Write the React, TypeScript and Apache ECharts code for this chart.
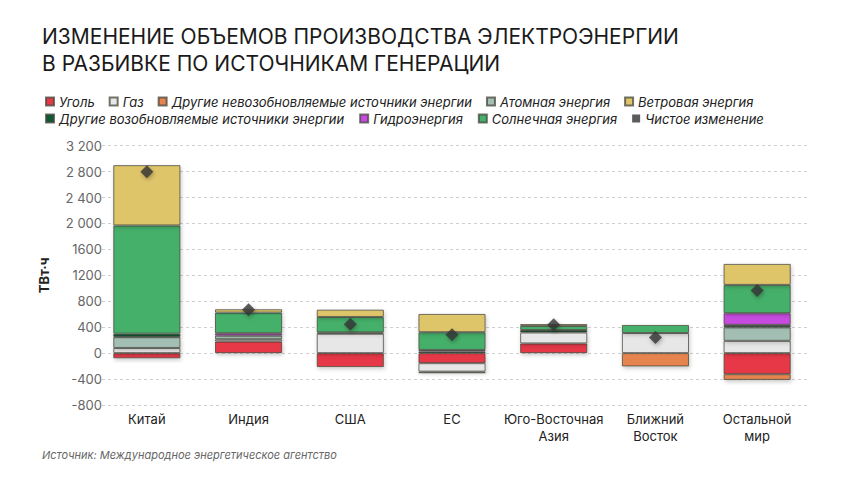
import React, { useEffect, useRef } from "react";
import * as echarts from "echarts";

// Regions along the category axis
const categories = [
  "Китай",
  "Индия",
  "США",
  "ЕС",
  "Юго-Восточная\nАзия",
  "Ближний\nВосток",
  "Остальной\nмир",
];

// Change in generation by source, TWh (null = no change)
const coal = [-80, 180, -215, -155, 150, null, -325];
const gas = [80, 35, 300, -130, 170, 310, 190];
const otherNonRenewable = [null, null, null, null, null, -205, -88];
const nuclear = [170, 55, null, -25, null, null, 210];
const otherRenewable = [50, null, 20, 25, 36, null, 36];
const hydro = [null, 37, null, 25, null, null, 180];
const solar = [1670, 318, 238, 273, 62, 125, 437];
const wind = [930, 52, 113, 282, 31, null, 324];
const netChange = [2800, 668, 447, 282, 437, 240, 966];

// Value-axis tick labels
const yTicks = [-800, -400, 0, 400, 800, 1200, 1600, 2000, 2400, 2800, 3200];
const yTickLabels = ["-800", "-400", "0", "400", "800", "1200", "1600", "2 000", "2 400", "2 800", "3 200"];

const NAMES = {
  coal: "Уголь",
  gas: "Газ",
  otherNonRenewable: "Другие невозобновляемые источники энергии",
  nuclear: "Атомная энергия",
  wind: "Ветровая энергия",
  otherRenewable: "Другие возобновляемые источники энергии",
  hydro: "Гидроэнергия",
  solar: "Солнечная энергия",
  net: "Чистое изменение",
};

const FONT = "Inter, 'Noto Sans', sans-serif";

export default function App() {
  const ref = useRef<HTMLDivElement>(null);

  useEffect(() => {
    if (!ref.current) return;
    const chart = echarts.init(ref.current, undefined, { renderer: "svg" });

    const stackSeries = (name: string, data: (number | null)[], color: string) => ({
      name,
      type: "bar",
      stack: "total",
      data: data.map((v) => (v === null ? "-" : v)),
      barWidth: "66%",
      itemStyle: {
        color,
        borderColor: "rgba(70,70,60,0.75)",
        borderWidth: 1,
        shadowBlur: 4,
        shadowOffsetX: 1,
        shadowOffsetY: 2,
        shadowColor: "rgba(0,0,0,0.22)",
      },
      emphasis: { disabled: true },
    });

    const legendText = {
      fontFamily: FONT,
      fontStyle: "italic" as const,
      fontSize: 13,
      color: "#222",
    };

    chart.setOption({
      animation: false,
      backgroundColor: "#fff",
      title: {
        text: "ИЗМЕНЕНИЕ ОБЪЕМОВ ПРОИЗВОДСТВА ЭЛЕКТРОЭНЕРГИИ\nВ РАЗБИВКЕ ПО ИСТОЧНИКАМ ГЕНЕРАЦИИ",
        left: 37,
        top: 18,
        textStyle: {
          fontFamily: FONT,
          fontSize: 21,
          fontWeight: "normal",
          lineHeight: 27,
          color: "#1a1a1a",
        },
      },
      legend: [
        {
          left: 40,
          top: 90,
          icon: "rect",
          itemWidth: 8,
          itemHeight: 8,
          itemGap: 14,
          textStyle: legendText,
          data: [NAMES.coal, NAMES.gas, NAMES.otherNonRenewable, NAMES.nuclear, NAMES.wind],
        },
        {
          left: 40,
          top: 107,
          icon: "rect",
          itemWidth: 8,
          itemHeight: 8,
          itemGap: 15,
          textStyle: legendText,
          data: [NAMES.otherRenewable, NAMES.hydro, NAMES.solar, NAMES.net],
        },
      ],
      grid: { left: 96, right: 52, top: 145.7, bottom: 79 },
      xAxis: {
        type: "category",
        data: categories,
        axisLine: { show: false },
        axisTick: { show: false },
        axisLabel: {
          interval: 0,
          fontFamily: FONT,
          fontSize: 13,
          color: "#222",
          lineHeight: 17,
          margin: 5,
        },
      },
      yAxis: {
        type: "value",
        min: -800,
        max: 3200,
        interval: 400,
        name: "ТВт·ч",
        nameLocation: "middle",
        nameGap: 46,
        nameRotate: 90,
        nameTextStyle: {
          fontFamily: FONT,
          fontSize: 13,
          fontWeight: "bold",
          color: "#222",
        },
        axisLine: { show: false },
        axisTick: { show: false },
        axisLabel: {
          fontFamily: FONT,
          fontSize: 13,
          color: "#666",
          margin: -6,
          padding: [0, 0, 0, 4],
          backgroundColor: "#fff",
          formatter: (v: number) => {
            const i = yTicks.indexOf(v);
            return i >= 0 ? yTickLabels[i] : String(v);
          },
        },
        splitLine: { lineStyle: { color: "#cfcfcf", type: [3, 3], width: 1 } },
      },
      series: [
        stackSeries(NAMES.coal, coal, "#e63946"),
        stackSeries(NAMES.gas, gas, "#e7e7e7"),
        stackSeries(NAMES.otherNonRenewable, otherNonRenewable, "#e5844f"),
        stackSeries(NAMES.nuclear, nuclear, "#a3bfb3"),
        stackSeries(NAMES.otherRenewable, otherRenewable, "#0e5a33"),
        stackSeries(NAMES.hydro, hydro, "#c84be0"),
        stackSeries(NAMES.solar, solar, "#45b06b"),
        stackSeries(NAMES.wind, wind, "#dfc56a"),
        {
          name: NAMES.net,
          type: "scatter",
          data: netChange,
          symbol: "diamond",
          symbolSize: 13,
          z: 5,
          itemStyle: {
            color: "#333",
            shadowBlur: 4,
            shadowOffsetX: 1,
            shadowOffsetY: 2,
            shadowColor: "rgba(0,0,0,0.35)",
          },
          emphasis: { disabled: true },
        },
      ],
      graphic: [
        {
          type: "text",
          left: 42,
          top: 449,
          style: {
            text: "Источник: Международное энергетическое агентство",
            fontFamily: FONT,
            fontStyle: "italic",
            fontSize: 11,
            fill: "#666",
          },
        },
      ],
    });

    return () => chart.dispose();
  }, []);

  return <div ref={ref} style={{ width: 860, height: 484, position: "absolute", left: 0, top: 0 }} />;
}
